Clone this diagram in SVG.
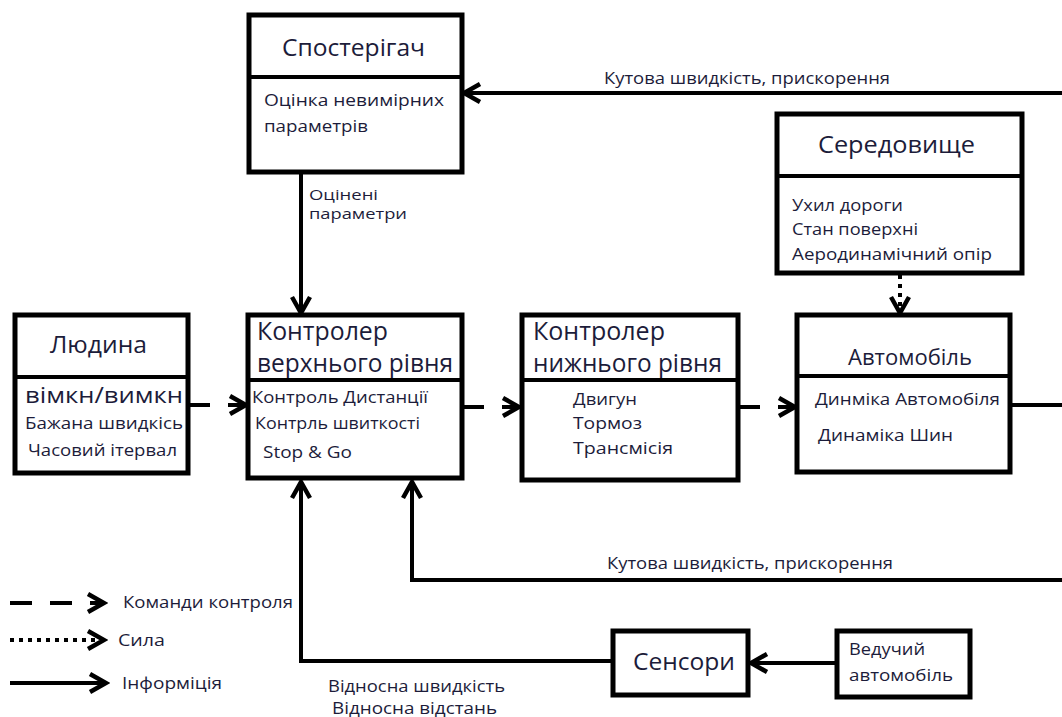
<svg xmlns="http://www.w3.org/2000/svg" width="1062" height="717" viewBox="0 0 1062 717">
<style>
.box{fill:#fff;stroke:#000;stroke-width:5}
.div{stroke:#000;stroke-width:4}
.t{font-family:"Open Sans","DejaVu Sans",sans-serif;fill:#1c1c3a}
.ttl{font-size:23px}
.big{font-size:25px}
.sm{font-size:16.5px;font-weight:500}
.lbl{font-size:15.5px;font-weight:500}
.ln{fill:none;stroke:#000;stroke-width:4}
.dash{stroke-dasharray:22 18}
.dot{stroke-dasharray:4 5}
</style>
<defs>
<marker id="ah" markerUnits="userSpaceOnUse" markerWidth="24" markerHeight="24" viewBox="0 0 24 24" refX="20" refY="12" orient="auto">
<path d="M4,3 L20,12 L4,21" fill="none" stroke="#000" stroke-width="4.5"/>
</marker>
</defs>
<rect width="1062" height="717" fill="#fff"/>
<g id="connectors">
<path class="ln" d="M1062,93 H464" marker-end="url(#ah)"/>
<path class="ln" d="M301,172 V313" marker-end="url(#ah)"/>
<path class="ln dash" d="M188,405 H246" marker-end="url(#ah)"/>
<path class="ln dash" d="M462,407 H519" marker-end="url(#ah)"/>
<path class="ln dash" d="M738,407 H795" marker-end="url(#ah)"/>
<path class="ln" d="M1010,405 H1062"/>
<path class="ln dot" d="M900,275 V313" marker-end="url(#ah)"/>
<path class="ln" d="M1062,580 H412 V482" marker-end="url(#ah)"/>
<path class="ln" d="M613,661 H301 V482" marker-end="url(#ah)"/>
<path class="ln" d="M837,663 H751" marker-end="url(#ah)"/>
<text class="t lbl" x="604" y="84" textLength="286" lengthAdjust="spacingAndGlyphs">Кутова швидкість, прискорення</text>
<text class="t lbl" x="607" y="569" textLength="286" lengthAdjust="spacingAndGlyphs">Кутова швидкість, прискорення</text>
<text class="t" x="309" y="200" font-size="14" font-weight="500" textLength="69" lengthAdjust="spacingAndGlyphs">Оцінені</text>
<text class="t" x="309" y="219" font-size="14" font-weight="500" textLength="98" lengthAdjust="spacingAndGlyphs">параметри</text>
<text class="t lbl" x="328" y="692" textLength="177" lengthAdjust="spacingAndGlyphs">Відносна швидкість</text>
<text class="t lbl" x="332" y="714" textLength="165" lengthAdjust="spacingAndGlyphs">Відносна відстань</text>
</g>
<g id="legend">
<path class="ln dash" d="M10,603 H104" marker-end="url(#ah)"/>
<path class="ln dot" d="M10,640 H104" marker-end="url(#ah)"/>
<path class="ln" d="M10,683 H106" marker-end="url(#ah)"/>
<text class="t lbl" x="123" y="608" textLength="170" lengthAdjust="spacingAndGlyphs">Команди контроля</text>
<text class="t lbl" x="118" y="646" textLength="47" lengthAdjust="spacingAndGlyphs">Сила</text>
<text class="t lbl" x="122" y="689" textLength="100" lengthAdjust="spacingAndGlyphs">Інформіція</text>
</g>
<g id="observer">
<rect class="box" x="249" y="15" width="213" height="157"/>
<line class="div" x1="249" y1="77" x2="462" y2="77"/>
<text class="t ttl" x="282" y="56" textLength="143" lengthAdjust="spacingAndGlyphs">Спостерігач</text>
<text class="t sm" x="264" y="106" textLength="180" lengthAdjust="spacingAndGlyphs">Оцінка невимірних</text>
<text class="t sm" x="264" y="132" textLength="104" lengthAdjust="spacingAndGlyphs">параметрів</text>
</g>
<g id="human">
<rect class="box" x="15" y="315" width="173" height="158"/>
<line class="div" x1="15" y1="377" x2="188" y2="377"/>
<text class="t ttl" x="50" y="353" textLength="97" lengthAdjust="spacingAndGlyphs">Людина</text>
<text class="t" x="25" y="403" font-size="22" font-weight="500" textLength="158" lengthAdjust="spacingAndGlyphs">вімкн/вимкн</text>
<text class="t sm" x="25" y="429" textLength="158" lengthAdjust="spacingAndGlyphs">Бажана швидкісь</text>
<text class="t sm" x="28" y="456" textLength="149" lengthAdjust="spacingAndGlyphs">Часовий ітервал</text>
</g>
<g id="upper-controller">
<rect class="box" x="248" y="315" width="214" height="163"/>
<line class="div" x1="248" y1="380" x2="462" y2="380"/>
<text class="t big" x="257" y="340" textLength="131" lengthAdjust="spacingAndGlyphs">Контролер</text>
<text class="t big" x="257" y="372" textLength="196" lengthAdjust="spacingAndGlyphs">верхнього рівня</text>
<text class="t sm" x="252" y="403" textLength="176" lengthAdjust="spacingAndGlyphs">Контроль Дистанції</text>
<text class="t sm" x="255" y="429" textLength="165" lengthAdjust="spacingAndGlyphs">Контрль швиткості</text>
<text class="t sm" x="263" y="458" textLength="89" lengthAdjust="spacingAndGlyphs">Stop &amp; Go</text>
</g>
<g id="lower-controller">
<rect class="box" x="522" y="315" width="216" height="165"/>
<line class="div" x1="522" y1="380" x2="738" y2="380"/>
<text class="t big" x="533" y="340" textLength="132" lengthAdjust="spacingAndGlyphs">Контролер</text>
<text class="t big" x="533" y="372" textLength="189" lengthAdjust="spacingAndGlyphs">нижнього рівня</text>
<text class="t sm" x="573" y="405" textLength="64" lengthAdjust="spacingAndGlyphs">Двигун</text>
<text class="t sm" x="573" y="429" textLength="69" lengthAdjust="spacingAndGlyphs">Тормоз</text>
<text class="t sm" x="573" y="454" textLength="100" lengthAdjust="spacingAndGlyphs">Трансмісія</text>
</g>
<g id="car">
<rect class="box" x="797" y="315" width="213" height="157"/>
<line class="div" x1="797" y1="376" x2="1010" y2="376"/>
<text class="t" x="848" y="365" font-size="21" textLength="124" lengthAdjust="spacingAndGlyphs">Автомобіль</text>
<text class="t sm" x="815" y="405" textLength="185" lengthAdjust="spacingAndGlyphs">Динміка Автомобіля</text>
<text class="t sm" x="818" y="441" textLength="135" lengthAdjust="spacingAndGlyphs">Динаміка Шин</text>
</g>
<g id="environment">
<rect class="box" x="777" y="114" width="245" height="159"/>
<line class="div" x1="777" y1="176" x2="1022" y2="176"/>
<text class="t ttl" x="818" y="153" textLength="157" lengthAdjust="spacingAndGlyphs">Середовище</text>
<text class="t sm" x="792" y="211" textLength="111" lengthAdjust="spacingAndGlyphs">Ухил дороги</text>
<text class="t sm" x="792" y="235" textLength="126" lengthAdjust="spacingAndGlyphs">Стан поверхні</text>
<text class="t sm" x="792" y="260" textLength="200" lengthAdjust="spacingAndGlyphs">Аеродинамічний опір</text>
</g>
<g id="sensors">
<rect class="box" x="613" y="631" width="135" height="64"/>
<text class="t ttl" x="633" y="670" textLength="102" lengthAdjust="spacingAndGlyphs">Сенсори</text>
</g>
<g id="lead-car">
<rect class="box" x="837" y="631" width="133" height="66"/>
<text class="t sm" x="849" y="655" textLength="76" lengthAdjust="spacingAndGlyphs">Ведучий</text>
<text class="t sm" x="849" y="681" textLength="104" lengthAdjust="spacingAndGlyphs">автомобіль</text>
</g>
</svg>
